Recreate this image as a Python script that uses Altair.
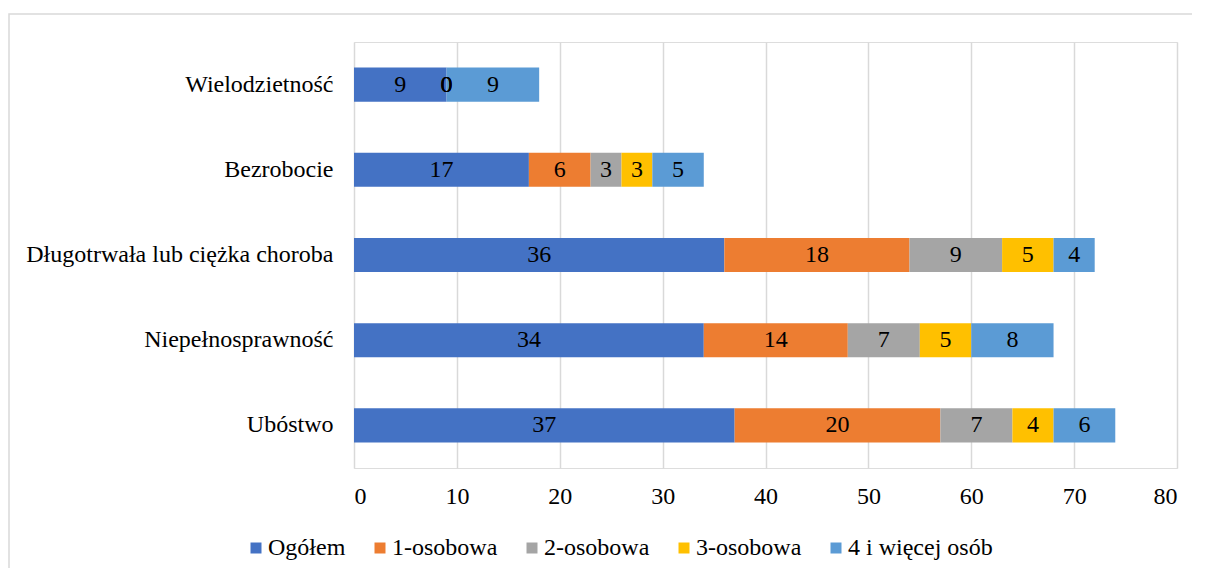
import altair as alt
import pandas as pd

categories = ["Wielodzietność", "Bezrobocie", "Długotrwała lub ciężka choroba", "Niepełnosprawność", "Ubóstwo"]
series = ["Ogółem", "1-osobowa", "2-osobowa", "3-osobowa", "4 i więcej osób"]
colors = ["#4472C4", "#ED7D31", "#A5A5A5", "#FFC000", "#5B9BD5"]
values = {
    "Ogółem":          [9, 17, 36, 34, 37],
    "1-osobowa":       [0, 6, 18, 14, 20],
    "2-osobowa":       [0, 3, 9, 7, 7],
    "3-osobowa":       [0, 3, 5, 5, 4],
    "4 i więcej osób": [9, 5, 4, 8, 6],
}

rows = []
for si, s in enumerate(series):
    for ci, c in enumerate(categories):
        rows.append({"cat": c, "series": s, "order": si, "value": values[s][ci]})
df = pd.DataFrame(rows)

W, H = 823, 426
FONT = "Liberation Serif"
FS = 24

base = alt.Chart(df).transform_stack(
    stack="value", groupby=["cat"], sort=[alt.SortField("order", order="ascending")], as_=["v0", "v1"]
).transform_calculate(mid="(datum.v0 + datum.v1) / 2")

y_enc = alt.Y("cat:N", sort=categories, title=None,
              scale=alt.Scale(paddingInner=0.6, paddingOuter=0.3),
              axis=alt.Axis(domain=False, ticks=False, labelFont=FONT, labelFontSize=FS,
                            labelColor="#000000", labelPadding=21, labelLimit=400))

bars = base.mark_bar().encode(
    x=alt.X("v0:Q", title=None, scale=alt.Scale(domain=[0, 80], nice=False),
            axis=alt.Axis(values=list(range(0, 81, 10)), domain=False, ticks=False, grid=True,
                          gridColor="#D9D9D9", gridWidth=1.5, labelFont=FONT, labelFontSize=FS,
                          labelColor="#000000", labelPadding=16)),
    x2="v1:Q",
    y=y_enc,
    color=alt.Color("series:N", sort=series,
                    scale=alt.Scale(domain=series, range=colors),
                    legend=alt.Legend(orient="none", legendX=-110, legendY=494, direction="horizontal",
                                      title=None, symbolType="square", symbolSize=121,
                                      symbolStrokeWidth=0, labelFont=FONT, labelFontSize=FS,
                                      labelColor="#000000", columnPadding=22, labelOffset=0)),
    order=alt.Order("order:Q"),
)

labels = base.mark_text(font=FONT, fontSize=FS, color="#000000").encode(
    x=alt.X("mid:Q"),
    y=alt.Y("cat:N", sort=categories),
    text=alt.Text("value:Q"),
)

frame = alt.Chart(pd.DataFrame({"k": [0]})).mark_rect(
    fill=None, stroke="#D9D9D9", strokeWidth=1.5, clip=False
).encode(
    x=alt.value(-345), x2=alt.value(W + 80),
    y=alt.value(-28), y2=alt.value(H + 140),
)

chart = alt.layer(frame, bars, labels).properties(
    width=W, height=H,
    padding={"left": 346, "top": 34, "right": 15, "bottom": 100},
    autosize=alt.AutoSizeParams(type="none"),
).configure_view(stroke=None).configure(background="#FFFFFF")

chart.save("out.html", embed_options={"renderer": "svg", "actions": False})
